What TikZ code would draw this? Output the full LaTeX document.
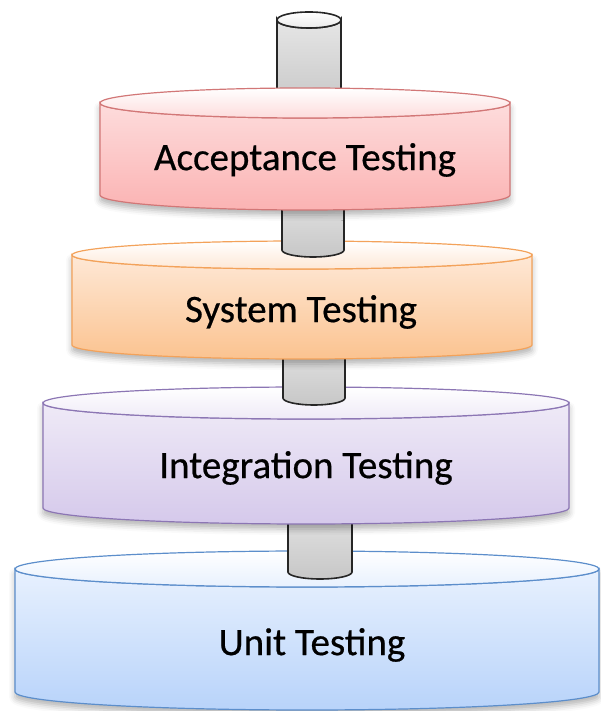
\documentclass[tikz,border=0pt]{standalone}
\usepackage{fontspec}
\setmainfont{Carlito}
\newfontfamily\layerfont[FakeBold=0.5]{Carlito}
\usetikzlibrary{shadows.blur}

\definecolor{redlight}{HTML}{FDDCDC}
\definecolor{reddark}{HTML}{FBB3B3}
\definecolor{redline}{HTML}{D27777}
\definecolor{orangelight}{HTML}{FEE8D6}
\definecolor{orangedark}{HTML}{FBC390}
\definecolor{orangeline}{HTML}{F3A25A}
\definecolor{purplelight}{HTML}{EFEAF7}
\definecolor{purpledark}{HTML}{D5C9EB}
\definecolor{purpleline}{HTML}{8C76B4}
\definecolor{bluelight}{HTML}{E8F1FE}
\definecolor{bluedark}{HTML}{B8D3FA}
\definecolor{blueline}{HTML}{5C8ECB}

\tikzset{
  layertext/.style={font=\layerfont\fontsize{19.5}{23}\selectfont,text=black},
  rodline/.style={draw=black!85,line width=0.8pt},
  disklight/.style={blur shadow={shadow xshift=0pt,shadow yshift=-2.5pt,
      shadow blur radius=3pt,shadow opacity=30}}
}

% #1 cx, #2 top, #3 bottom, #4 rx, #5 ry, #6 light, #7 dark, #8 line
\newcommand{\layerdisk}[8]{%
  \shade[disklight,top color=#6,bottom color=#7,draw=#8,line width=0.6pt]
    (#1-#4,#2) -- (#1-#4,#3) arc[start angle=180,end angle=360,x radius=#4,y radius=#5]
    -- (#1+#4,#2) arc[start angle=0,end angle=-180,x radius=#4,y radius=#5] -- cycle;
  \shade[top color=white,bottom color=#6,draw=#8,line width=0.6pt]
    (#1,#2) ellipse[x radius=#4,y radius=#5];
}
% #1 cx, #2 top, #3 bottom, #4 rx, #5 ry
\newcommand{\rod}[5]{%
  \shade[top color=black!10,bottom color=black!22,rodline]
    (#1-#4,#2) -- (#1-#4,#3) arc[start angle=180,end angle=360,x radius=#4,y radius=#5]
    -- (#1+#4,#2) arc[start angle=0,end angle=-180,x radius=#4,y radius=#5] -- cycle;
  \shade[top color=white,bottom color=black!8,rodline]
    (#1,#2) ellipse[x radius=#4,y radius=#5];
}

\begin{document}
\begin{tikzpicture}[x=0.5pt,y=0.5pt]
	\useasboundingbox (0,0) rectangle (600,711);
	% bottom up, so every rod sits on the disk below it
	\layerdisk{307}{142}{19}{292}{18}{bluelight}{bluedark}{blueline}
	\rod{320}{206}{139}{32}{7}
	\layerdisk{306}{308}{203}{263}{16}{purplelight}{purpledark}{purpleline}
	\rod{314}{371}{313}{31}{7}
	\layerdisk{302}{456}{366}{230}{14}{orangelight}{orangedark}{orangeline}
	\rod{313}{521}{461}{31}{7}
	\rod{309}{691}{611}{32}{8}
	\layerdisk{305}{608}{516}{205}{15}{redlight}{reddark}{redline}
	%	labels
	\node[layertext] (acceptance) at (305,551) {Acceptance Testing};
	\node[layertext] (system) at (301,399) {System Testing};
	\node[layertext] (integration) at (306,243) {Integration Testing};
	\node[layertext] (unit) at (312,66) {Unit Testing};
\end{tikzpicture}
\end{document}
